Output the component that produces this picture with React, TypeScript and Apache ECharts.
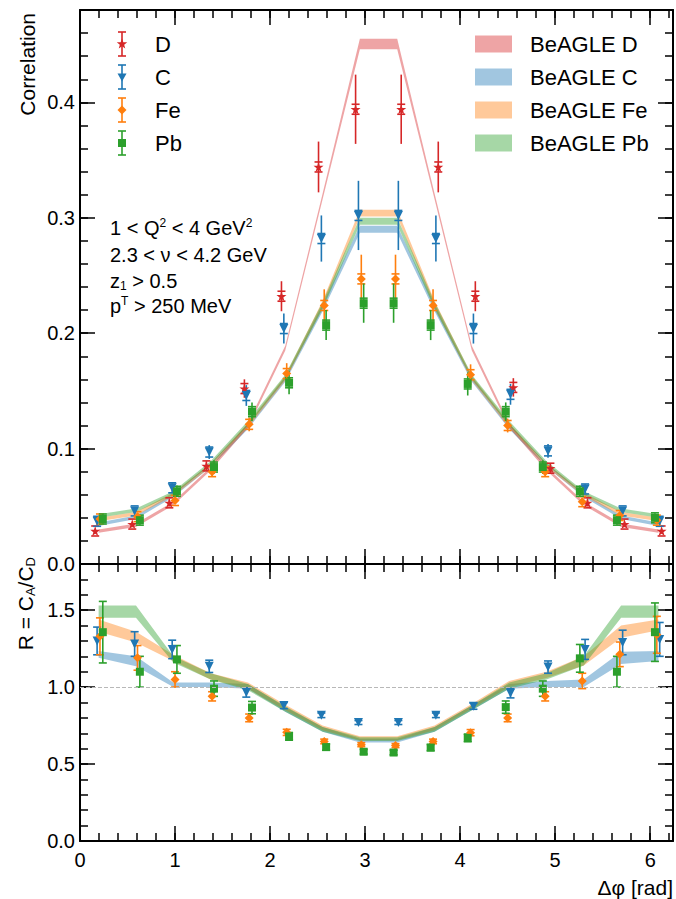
import React, { useEffect, useRef } from 'react';
import * as echarts from 'echarts';

// ---------- data ----------
const binCenters = [0.196, 0.589, 0.982, 1.374, 1.767, 2.160, 2.553, 2.945, 3.338, 3.731, 4.123, 4.516, 4.909, 5.301, 5.694, 6.087];

// measured x positions of the points (per species)
const xD = [0.16, 0.55, 0.94, 1.33, 1.73, 2.12, 2.51, 2.90, 3.38, 3.77, 4.16, 4.56, 4.95, 5.34, 5.73, 6.12];
const xC = [0.18, 0.575, 0.97, 1.36, 1.75, 2.145, 2.54, 2.93, 3.35, 3.745, 4.14, 4.53, 4.925, 5.315, 5.71, 6.10];
const xFe = [0.21, 0.605, 1.0, 1.39, 1.78, 2.175, 2.57, 2.96, 3.32, 3.715, 4.11, 4.50, 4.895, 5.285, 5.68, 6.07];
const xPb = [0.24, 0.63, 1.02, 1.41, 1.81, 2.20, 2.59, 2.985, 3.30, 3.69, 4.08, 4.48, 4.87, 5.26, 5.65, 6.05];

// correlation (top panel)
const corrD = [0.0286, 0.0346, 0.053, 0.085, 0.152, 0.232, 0.344, 0.394, 0.394, 0.344, 0.232, 0.153, 0.083, 0.053, 0.0346, 0.0286];
const errD = [0.002, 0.002, 0.003, 0.004, 0.008, 0.013, 0.022, 0.03, 0.03, 0.022, 0.013, 0.008, 0.004, 0.003, 0.002, 0.002];
const corrC = [0.037, 0.046, 0.066, 0.097, 0.146, 0.204, 0.282, 0.302, 0.302, 0.282, 0.204, 0.147, 0.098, 0.065, 0.046, 0.037];
const errC = [0.003, 0.003, 0.004, 0.006, 0.009, 0.013, 0.02, 0.03, 0.03, 0.02, 0.013, 0.009, 0.006, 0.004, 0.003, 0.003];
const corrFe = [0.039, 0.041, 0.055, 0.080, 0.121, 0.165, 0.224, 0.247, 0.247, 0.224, 0.164, 0.120, 0.080, 0.054, 0.042, 0.038];
const errFe = [0.003, 0.003, 0.003, 0.004, 0.006, 0.009, 0.014, 0.021, 0.021, 0.014, 0.009, 0.006, 0.004, 0.003, 0.003, 0.003];
const corrPb = [0.039, 0.038, 0.063, 0.084, 0.132, 0.157, 0.207, 0.226, 0.226, 0.207, 0.156, 0.132, 0.084, 0.063, 0.038, 0.040];
const errPb = [0.004, 0.004, 0.005, 0.006, 0.008, 0.01, 0.013, 0.017, 0.017, 0.013, 0.01, 0.008, 0.006, 0.005, 0.004, 0.004];

// ratio R = C_A / C_D (bottom panel)
const ratioC = [1.30, 1.28, 1.245, 1.135, 0.965, 0.88, 0.817, 0.77, 0.77, 0.817, 0.876, 0.96, 1.13, 1.245, 1.29, 1.31];
const errRC = [0.09, 0.08, 0.06, 0.04, 0.03, 0.02, 0.015, 0.013, 0.013, 0.015, 0.02, 0.03, 0.04, 0.065, 0.08, 0.11];
const ratioFe = [1.33, 1.19, 1.05, 0.94, 0.80, 0.706, 0.647, 0.626, 0.62, 0.647, 0.704, 0.80, 0.94, 1.04, 1.213, 1.34];
const errRFe = [0.12, 0.08, 0.05, 0.03, 0.025, 0.02, 0.015, 0.013, 0.013, 0.015, 0.02, 0.025, 0.03, 0.05, 0.08, 0.12];
const ratioPb = [1.357, 1.10, 1.18, 0.99, 0.867, 0.68, 0.61, 0.58, 0.575, 0.607, 0.67, 0.87, 0.99, 1.187, 1.10, 1.357];
const errRPb = [0.2, 0.1, 0.09, 0.05, 0.04, 0.025, 0.02, 0.015, 0.015, 0.02, 0.025, 0.04, 0.05, 0.09, 0.1, 0.19];

// BeAGLE bands (top panel)
const bandD_lo = [0.027, 0.032, 0.051, 0.081, 0.118, 0.185, 0.316, 0.446, 0.446, 0.316, 0.185, 0.118, 0.081, 0.051, 0.032, 0.027];
const bandD_hi = [0.030, 0.035, 0.054, 0.084, 0.122, 0.189, 0.321, 0.455, 0.455, 0.321, 0.189, 0.122, 0.084, 0.054, 0.035, 0.030];
const bandC_lo = [0.033, 0.039, 0.058, 0.084, 0.117, 0.158, 0.219, 0.287, 0.287, 0.219, 0.158, 0.117, 0.084, 0.058, 0.039, 0.033];
const bandC_hi = [0.036, 0.042, 0.061, 0.087, 0.121, 0.162, 0.225, 0.293, 0.293, 0.225, 0.162, 0.121, 0.087, 0.061, 0.042, 0.036];
const bandFe_lo = [0.037, 0.042, 0.059, 0.084, 0.118, 0.159, 0.222, 0.301, 0.301, 0.222, 0.159, 0.118, 0.084, 0.059, 0.042, 0.037];
const bandFe_hi = [0.040, 0.045, 0.062, 0.087, 0.122, 0.163, 0.228, 0.307, 0.307, 0.228, 0.163, 0.122, 0.087, 0.062, 0.045, 0.040];
const bandPb_lo = [0.040, 0.045, 0.060, 0.086, 0.120, 0.160, 0.221, 0.294, 0.294, 0.221, 0.160, 0.120, 0.086, 0.060, 0.045, 0.040];
const bandPb_hi = [0.043, 0.048, 0.063, 0.089, 0.124, 0.164, 0.227, 0.300, 0.300, 0.227, 0.164, 0.124, 0.089, 0.063, 0.048, 0.043];

// BeAGLE ratio bands (bottom panel)
const bandRC_lo = [1.19, 1.135, 1.0, 1.0, 0.99, 0.84, 0.71, 0.64, 0.64, 0.71, 0.85, 0.99, 1.0, 1.0, 1.15, 1.17];
const bandRC_hi = [1.235, 1.20, 1.03, 1.03, 1.02, 0.87, 0.74, 0.665, 0.665, 0.74, 0.88, 1.02, 1.04, 1.05, 1.23, 1.235];
const bandRFe_lo = [1.36, 1.29, 1.17, 1.05, 0.99, 0.85, 0.72, 0.655, 0.655, 0.72, 0.86, 1.0, 1.06, 1.14, 1.32, 1.37];
const bandRFe_hi = [1.44, 1.36, 1.21, 1.09, 1.03, 0.885, 0.75, 0.68, 0.68, 0.75, 0.89, 1.04, 1.10, 1.20, 1.40, 1.44];
const bandRPb_lo = [1.45, 1.45, 1.16, 1.05, 0.98, 0.84, 0.71, 0.65, 0.65, 0.71, 0.85, 0.99, 1.05, 1.14, 1.45, 1.45];
const bandRPb_hi = [1.53, 1.53, 1.20, 1.09, 1.02, 0.875, 0.74, 0.675, 0.675, 0.74, 0.88, 1.03, 1.09, 1.20, 1.53, 1.53];

const speciesNames = ['D', 'C', 'Fe', 'Pb'];
const bandNames = ['BeAGLE D', 'BeAGLE C', 'BeAGLE Fe', 'BeAGLE Pb'];
const cutLabels = [
  '1 < Q{sup|2} < 4 GeV{sup|2}',
  '2.3 < ν < 4.2 GeV',
  'z{sub|1} > 0.5',
  'p{sup|T} > 250 MeV',
];

// ---------- style ----------
const FONT = '"Liberation Sans", Arial, Helvetica, sans-serif';
const COLORS: Record<string, string> = { D: '#d62728', C: '#1f77b4', Fe: '#ff7f0e', Pb: '#2ca02c' };
const BAND: Record<string, string> = {
  D: 'rgba(214,39,40,0.42)',
  C: 'rgba(31,119,180,0.42)',
  Fe: 'rgba(255,127,14,0.42)',
  Pb: 'rgba(44,160,44,0.42)',
};
const STAR = 'path://M50,0 L61,35 98,35 68,57 79,91 50,70 21,91 32,57 2,35 39,35Z';
const SYMBOL: Record<string, any> = {
  D: { symbol: STAR, size: 10, rotate: 0 },
  C: { symbol: 'triangle', size: 9, rotate: 180 },
  Fe: { symbol: 'diamond', size: 9, rotate: 0 },
  Pb: { symbol: 'rect', size: 8, rotate: 0 },
};
const X_MAX = 6.24;

const tickLine = { color: '#000', width: 1.5 };
const labelStyle = { fontSize: 20, fontFamily: FONT, color: '#000' };

function axisSet(dim: 'x' | 'y', gridIndex: number, min: number, max: number, major: number, minor: number, showLabels: boolean, fmt: (v: number) => string) {
  const pos = dim === 'x' ? ['bottom', 'top'] : ['left', 'right'];
  const out: any[] = [];
  pos.forEach((p, k) => {
    out.push({
      type: 'value', gridIndex, position: p, min, max, interval: major,
      splitLine: { show: false },
      axisLine: { show: true, onZero: false, lineStyle: { color: '#000', width: 2 } },
      axisTick: { show: true, inside: true, length: 15, lineStyle: tickLine },
      axisLabel: {
        show: showLabels && k === 0, showMaxLabel: false, showMinLabel: true,
        margin: dim === 'x' ? 9 : 5, formatter: fmt, ...labelStyle,
      },
    });
    out.push({
      type: 'value', gridIndex, position: p, min, max, interval: minor,
      splitLine: { show: false },
      axisLine: { show: false, onZero: false },
      axisTick: { show: true, inside: true, length: 8, lineStyle: tickLine },
      axisLabel: { show: false },
    });
  });
  return out;
}

function bandSeries(xs: number[], lo: number[], hi: number[], color: string, ax: number) {
  const data = xs.map((x, i) => [x, lo[i], hi[i]]);
  return {
    type: 'custom', xAxisIndex: ax, yAxisIndex: ax, z: 1, silent: true,
    data, encode: { x: 0, y: [1, 2] },
    renderItem: (params: any, api: any) => {
      if (params.dataIndex !== 0) return { type: 'group', children: [] };
      const top = data.map((d) => api.coord([d[0], d[2]]));
      const bot = data.map((d) => api.coord([d[0], d[1]])).reverse();
      return { type: 'polygon', shape: { points: top.concat(bot) }, style: { fill: color, stroke: 'none' } };
    },
  };
}

function errSeries(xs: number[], ys: number[], es: number[], color: string, ax: number, capsAtEnds: boolean) {
  const data = xs.map((x, i) => [x, ys[i], es[i]]);
  return {
    type: 'custom', xAxisIndex: ax, yAxisIndex: ax, z: 3, silent: true,
    data, encode: { x: 0, y: 1 },
    renderItem: (params: any, api: any) => {
      const x = api.value(0), y = api.value(1), e = api.value(2);
      const pt = api.coord([x, y]);
      const lo = api.coord([x, y - e]);
      const hi = api.coord([x, y + e]);
      const children: any[] = [
        { type: 'line', shape: { x1: lo[0], y1: lo[1], x2: hi[0], y2: hi[1] }, style: { stroke: color, lineWidth: 1.6 } },
      ];
      const capYs = capsAtEnds ? [lo[1], hi[1]] : [pt[1] - 5, pt[1] + 5];
      capYs.forEach((cy) => children.push({
        type: 'line', shape: { x1: pt[0] - 4, y1: cy, x2: pt[0] + 4, y2: cy }, style: { stroke: color, lineWidth: 1.6 },
      }));
      return { type: 'group', children };
    },
  };
}

function markerSeries(xs: number[], ys: number[], sp: string, ax: number) {
  const s = SYMBOL[sp];
  return {
    type: 'scatter', xAxisIndex: ax, yAxisIndex: ax, z: 4, silent: true,
    data: xs.map((x, i) => [x, ys[i]]),
    symbol: s.symbol, symbolSize: s.size, symbolRotate: s.rotate,
    itemStyle: { color: COLORS[sp], opacity: 1 },
  };
}

function legendMarker(sp: string, cx: number, cy: number): any {
  const fill = COLORS[sp];
  if (sp === 'D') {
    const pts: number[][] = [];
    for (let k = 0; k < 10; k++) {
      const r = k % 2 === 0 ? 5.5 : 2.3;
      const a = -Math.PI / 2 + (k * Math.PI) / 5;
      pts.push([cx + r * Math.cos(a), cy + r * Math.sin(a)]);
    }
    return { type: 'polygon', shape: { points: pts }, style: { fill } };
  }
  if (sp === 'C') return { type: 'polygon', shape: { points: [[cx - 4.5, cy - 3.5], [cx + 4.5, cy - 3.5], [cx, cy + 4.5]] }, style: { fill } };
  if (sp === 'Fe') return { type: 'polygon', shape: { points: [[cx, cy - 4.5], [cx + 4.5, cy], [cx, cy + 4.5], [cx - 4.5, cy]] }, style: { fill } };
  return { type: 'rect', shape: { x: cx - 4, y: cy - 4, width: 8, height: 8 }, style: { fill } };
}

function txt(text: string, x: number, y: number, size: number, align: string, extra: any = {}) {
  const small = Math.round(size * 0.62);
  return {
    type: 'text', x, y, silent: true, ...extra,
    style: {
      text, fill: '#000', fontSize: size, fontFamily: FONT,
      align, textAlign: align, verticalAlign: 'middle', textVerticalAlign: 'middle',
      lineHeight: size + 2,
      rich: {
        sup: { fontSize: small, fontFamily: FONT, verticalAlign: 'top', lineHeight: small, fill: '#000' },
        sub: { fontSize: small, fontFamily: FONT, verticalAlign: 'bottom', lineHeight: small, fill: '#000' },
      },
    },
    z: 100,
  };
}

function buildOption(): any {
  const xAxis = [
    ...axisSet('x', 0, 0, X_MAX, 1, 0.2, false, (v) => String(v)),
    ...axisSet('x', 1, 0, X_MAX, 1, 0.2, true, (v) => String(v)),
  ];
  const yAxis = [
    ...axisSet('y', 0, 0, 0.48, 0.1, 0.02, true, (v) => v.toFixed(1)),
    ...axisSet('y', 1, 0, 1.8, 0.5, 0.1, true, (v) => v.toFixed(1)),
  ];

  const series: any[] = [];
  const bandsTop: [string, number[], number[]][] = [
    ['D', bandD_lo, bandD_hi], ['C', bandC_lo, bandC_hi], ['Fe', bandFe_lo, bandFe_hi], ['Pb', bandPb_lo, bandPb_hi],
  ];
  bandsTop.forEach(([sp, lo, hi]) => series.push(bandSeries(binCenters, lo, hi, BAND[sp], 0)));
  const bandsBot: [string, number[], number[]][] = [
    ['C', bandRC_lo, bandRC_hi], ['Fe', bandRFe_lo, bandRFe_hi], ['Pb', bandRPb_lo, bandRPb_hi],
  ];
  bandsBot.forEach(([sp, lo, hi]) => series.push(bandSeries(binCenters, lo, hi, BAND[sp], 4)));

  // reference line at R = 1
  series.push({
    type: 'line', xAxisIndex: 4, yAxisIndex: 4, data: [], silent: true,
    markLine: {
      silent: true, symbol: 'none', label: { show: false },
      lineStyle: { type: 'dashed', color: '#b8b8b8', width: 1 },
      data: [{ yAxis: 1 }],
    },
  });

  const top: [string, number[], number[], number[]][] = [
    ['D', xD, corrD, errD], ['C', xC, corrC, errC], ['Fe', xFe, corrFe, errFe], ['Pb', xPb, corrPb, errPb],
  ];
  top.forEach(([sp, xs, ys, es]) => {
    series.push(errSeries(xs, ys, es, COLORS[sp], 0, false));
    series.push(markerSeries(xs, ys, sp, 0));
  });
  const bot: [string, number[], number[], number[]][] = [
    ['C', xC, ratioC, errRC], ['Fe', xFe, ratioFe, errRFe], ['Pb', xPb, ratioPb, errRPb],
  ];
  bot.forEach(([sp, xs, ys, es]) => {
    series.push(errSeries(xs, ys, es, COLORS[sp], 4, true));
    series.push(markerSeries(xs, ys, sp, 4));
  });

  const graphic: any[] = [];
  const legY = [44, 77, 110, 143];
  speciesNames.forEach((sp, i) => {
    const cy = legY[i];
    const c = COLORS[sp];
    graphic.push({ type: 'line', shape: { x1: 122, y1: cy - 12, x2: 122, y2: cy + 12 }, style: { stroke: c, lineWidth: 1.6 }, z: 100 });
    graphic.push({ type: 'line', shape: { x1: 118, y1: cy - 12, x2: 126, y2: cy - 12 }, style: { stroke: c, lineWidth: 1.6 }, z: 100 });
    graphic.push({ type: 'line', shape: { x1: 118, y1: cy + 12, x2: 126, y2: cy + 12 }, style: { stroke: c, lineWidth: 1.6 }, z: 100 });
    graphic.push({ ...legendMarker(sp, 122, cy), z: 101 });
    graphic.push(txt(sp, 155, cy, 22, 'left'));
  });
  bandNames.forEach((name, i) => {
    const sp = speciesNames[i];
    const cy = legY[i];
    graphic.push({ type: 'rect', shape: { x: 475, y: cy - 8.5, width: 37, height: 17 }, style: { fill: BAND[sp] }, z: 100 });
    graphic.push(txt(name, 530, cy, 22, 'left'));
  });
  const cutY = [228, 255, 281, 306];
  cutLabels.forEach((t, i) => graphic.push(txt(t, 110, cutY[i], 20, 'left')));

  graphic.push(txt('Correlation', 27, 13, 21, 'right', { rotation: Math.PI / 2 }));
  graphic.push(txt('R = C{sub|A}/C{sub|D}', 25, 557, 21, 'right', { rotation: Math.PI / 2 }));
  graphic.push(txt('Δφ [rad]', 673, 887, 21, 'right'));

  return {
    animation: false,
    backgroundColor: '#fff',
    grid: [
      { left: 80, top: 10, width: 593, height: 554, outerBoundsMode: 'none', containLabel: false },
      { left: 80, top: 564, width: 593, height: 277, outerBoundsMode: 'none', containLabel: false },
    ],
    xAxis, yAxis, series, graphic,
  };
}

export default function App() {
  const ref = useRef<HTMLDivElement>(null);
  useEffect(() => {
    const chart = echarts.init(ref.current as HTMLDivElement, undefined, { renderer: 'svg' });
    chart.setOption(buildOption());
    return () => chart.dispose();
  }, []);
  return <div ref={ref} style={{ position: 'absolute', left: 0, top: 0, width: 676, height: 899, background: '#fff' }} />;
}
